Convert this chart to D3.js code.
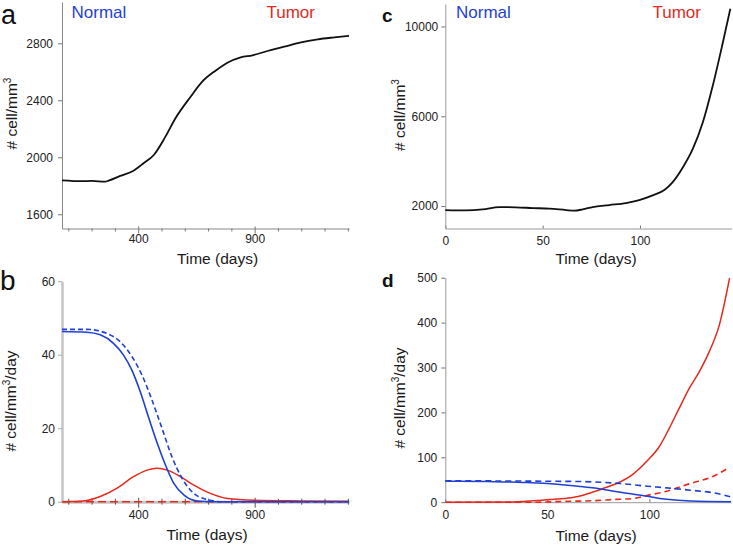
<!DOCTYPE html>
<html>
<head>
<meta charset="utf-8">
<script src="https://cdn.jsdelivr.net/npm/d3@7"></script>
<style>
  html, body { margin: 0; padding: 0; background: #fff; }
  svg { display: block; }
  text { font-family: "Liberation Sans", Arial, Helvetica, sans-serif; }
</style>
</head>
<body>
<svg id="chart" width="733" height="549"></svg>
<script>
// ---------------- DATA ----------------
// Panel a: total cell density vs time
const aTime  = [73,158,201,258,273,323,380,423,467,517,560,625,675,732,783,840,891,955,1027,1099,1171,1242,1305];
const aCells = [1838,1832,1834,1829,1836,1869,1906,1958,2016,2145,2274,2425,2531,2608,2664,2702,2716,2746,2776,2807,2828,2842,2853];

// Panel b: rates
const bNormalSolidT = [73,179,237,294,337,373,409,446,482,517,553,597,654,720,900,1305];
const bNormalSolidV = [46.3,46.1,45.4,43.1,39.9,35.8,29.9,22.7,15.9,10.0,5.0,1.8,0.2,0,0,0];
const bNormalDashT  = [73,179,265,323,373,416,459,502,545,588,638,696,760,900,1305];
const bNormalDashV  = [46.9,46.9,45.8,43.5,39.5,34.5,27.7,20.0,12.2,6.4,2.3,0.6,0,0,0];
const bTumorSolidT  = [73,165,237,308,380,438,482,525,582,639,697,783,898,1099,1305];
const bTumorSolidV  = [0,0.2,1.4,3.6,6.8,8.6,9.1,8.6,6.8,4.5,2.6,0.9,0.4,0.2,0.1];
const bTumorDashT   = [73,1305];
const bTumorDashV   = [0,0];

// Panel c: total cell density vs time
const cTime  = [0,10.6,19.2,27.7,36.3,44.9,53.4,62,66.3,70.6,75.7,84.2,92.8,99.6,106.5,112.5,116.8,121.9,127,132.2,137.3,142.5,146.4];
const cCells = [1822,1809,1853,1956,1942,1911,1884,1822,1795,1853,1956,2044,2133,2267,2476,2711,3067,3707,4520,5706,7333,9262,10786];

// Panel d: rates
const dNormalSolidT = [0,20,40,55,66,76,86,99,108.5,120,140];
const dNormalSolidV = [47,46,44,40,35,29.5,22,13.3,6.5,2.5,0.8];
const dNormalDashT  = [0,40,55,66,76,86,99,108.5,120,131.4,139.6];
const dNormalDashV  = [47.7,47,46.5,46,44.4,41.5,35.6,32,26.7,20.9,12];
const dTumorSolidT  = [0,30,45,55,63,67,72,77,83.7,91.9,98.7,104.9,109.8,114.7,119.6,124.5,129.4,134.3,139.3];
const dTumorSolidV  = [0,0.5,4,7,11,15,22,30,41,62,91,124,165,210,254,291,336,395,499];
const dTumorDashT   = [0,45,59,66,75.5,82.4,91.9,98.7,108.5,120,131.4,138.7];
const dTumorDashV   = [0,0,2,2.5,4,6,8,15,24.4,41.5,57.8,76.4];

// Ticks
const abXTicks = [100,200,300,400,500,600,700,800,900,1000,1100,1200,1300];
const abXLabels = [400,900];
const aYTicks = [1600,2000,2400,2800];
const bYTicks = [0,20,40,60];
const cdXTicks = [0,50,100];
const cYTicks = [2000,6000,10000];
const dYTicks = [0,100,200,300,400,500];

// ---------------- DRAW ----------------
const svg = d3.select("#chart");
const BLUE = "#1f3fd6", RED = "#e42a1d";
const fmt = d3.format("d");

function zip(t, v) { return t.map((x, i) => [x, v[i]]); }

function drawLine(g, x, y, data, color, width, dash) {
  const line = d3.line().x(d => x(d[0])).y(d => y(d[1])).curve(d3.curveMonotoneX);
  g.append("path").datum(data)
    .attr("fill", "none").attr("stroke", color).attr("stroke-width", width)
    .attr("stroke-dasharray", dash || null)
    .attr("stroke-linejoin", "round")
    .attr("d", line);
}

function yLabel(xpos, ycenter, withDay) {
  const t = svg.append("text")
    .attr("transform", `translate(${xpos},${ycenter}) rotate(-90)`)
    .attr("text-anchor", "middle").attr("font-size", 15.5).attr("fill", "#1a1a1a");
  t.append("tspan").text("# cell/mm");
  t.append("tspan").text("3").attr("font-size", 10).attr("dy", -6);
  if (withDay) t.append("tspan").text("/day").attr("dy", 6);
}

function xLabel(xc, yb) {
  svg.append("text").attr("x", xc).attr("y", yb).attr("text-anchor", "middle")
    .attr("font-size", 15.5).attr("fill", "#1a1a1a").text("Time (days)");
}

function styleAxis(g, color, width) {
  g.select(".domain").attr("stroke", color).attr("stroke-width", width);
  g.selectAll(".tick line").attr("stroke", "#777");
  g.selectAll(".tick text").attr("font-size", 12).attr("fill", "#222")
    .attr("font-family", "'Liberation Sans', Arial, sans-serif");
}

// ----- Panel a -----
{
  const x = d3.scaleLinear().domain([73, 1305]).range([62, 349]);
  const y = d3.scaleLinear().domain([1500, 3090]).range([228.5, 2]);
  const g = svg.append("g");
  const xa = g.append("g").attr("transform", "translate(0,228.5)")
    .call(d3.axisBottom(x).tickValues(abXTicks).tickSize(3).tickSizeOuter(0)
      .tickFormat(d => abXLabels.includes(d) ? fmt(d) : ""));
  xa.selectAll(".tick").filter(d => abXLabels.includes(d)).select("line").attr("y1", -2).attr("y2", 5);
  xa.selectAll(".tick text").attr("y", 6);
  styleAxis(xa, "#888", 1);
  const ya = g.append("g").attr("transform", "translate(62,0)")
    .call(d3.axisLeft(y).tickValues(aYTicks).tickSize(4).tickPadding(5).tickSizeOuter(0).tickFormat(fmt));
  styleAxis(ya, "#888", 1);
  drawLine(g, x, y, zip(aTime, aCells), "#111", 1.8);
  yLabel(17, 113.5, false);
  xLabel(217.5, 264);
  svg.append("text").attr("x", 1).attr("y", 24).attr("font-family", "Lato, 'Noto Sans', sans-serif")
    .attr("font-size", 27).attr("fill", "#111").text("a");
  svg.append("text").attr("x", 71.5).attr("y", 18.3).attr("font-size", 17).attr("fill", BLUE).text("Normal");
  svg.append("text").attr("x", 266.5).attr("y", 18.3).attr("font-size", 17).attr("fill", RED).text("Tumor");
}

// ----- Panel b -----
{
  const x = d3.scaleLinear().domain([73, 1305]).range([62, 349]);
  const y = d3.scaleLinear().domain([0, 60]).range([501.7, 281.2]);
  const g = svg.append("g");
  const ya = g.append("g").attr("transform", "translate(62,0)")
    .call(d3.axisLeft(y).tickValues(bYTicks).tickSize(4).tickPadding(3).tickSizeOuter(0).tickFormat(fmt));
  styleAxis(ya, "#c4c4c4", 2.5);
  ya.selectAll(".tick line").attr("stroke", "#aaa");
  const xa = g.append("g").attr("transform", "translate(0,501.7)")
    .call(d3.axisBottom(x).tickValues(abXTicks).tickSize(3).tickSizeOuter(0)
      .tickFormat(d => abXLabels.includes(d) ? fmt(d) : ""));
  styleAxis(xa, "#c4c4c4", 3);
  xa.selectAll(".tick line").attr("y1", -3).attr("y2", 3).attr("stroke", "#555");
  xa.selectAll(".tick").filter(d => abXLabels.includes(d)).select("line").attr("y1", -4).attr("y2", 6);
  xa.selectAll(".tick text").attr("y", 9);
  drawLine(g, x, y, zip(bTumorDashT, bTumorDashV), RED, 1.6, "8,4");
  drawLine(g, x, y, zip(bTumorSolidT, bTumorSolidV), RED, 1.5);
  drawLine(g, x, y, zip(bNormalDashT, bNormalDashV), BLUE, 1.6, "5,3");
  drawLine(g, x, y, zip(bNormalSolidT, bNormalSolidV), BLUE, 1.6);
  yLabel(16, 401, true);
  xLabel(207, 540);
  svg.append("text").attr("x", 0).attr("y", 290).attr("font-family", "Lato, 'Noto Sans', sans-serif")
    .attr("font-size", 28).attr("fill", "#111").text("b");
}

// ----- Panel c -----
{
  const x = d3.scaleLinear().domain([0, 147]).range([445.3, 731.5]);
  const y = d3.scaleLinear().domain([1000, 11000]).range([228.5, 4]);
  const g = svg.append("g");
  const xa = g.append("g").attr("transform", "translate(0,228.5)")
    .call(d3.axisBottom(x).tickValues(cdXTicks).tickSize(3).tickPadding(5).tickSizeOuter(0).tickFormat(fmt));
  xa.selectAll(".tick line").attr("y1", -3).attr("y2", 0);
  styleAxis(xa, "#999", 1);
  const ya = g.append("g").attr("transform", "translate(445.3,0)")
    .call(d3.axisLeft(y).tickValues(cYTicks).tickSize(4).tickPadding(3).tickSizeOuter(0).tickFormat(fmt));
  styleAxis(ya, "#999", 1);
  drawLine(g, x, y, zip(cTime, cCells), "#111", 1.8);
  yLabel(405, 115, false);
  xLabel(596, 264);
  svg.append("text").attr("x", 382).attr("y", 22).attr("font-family", "'Open Sans', sans-serif")
    .attr("font-weight", "bold").attr("font-size", 19).attr("fill", "#111").text("c");
  svg.append("text").attr("x", 456).attr("y", 18.3).attr("font-size", 17).attr("fill", BLUE).text("Normal");
  svg.append("text").attr("x", 652.5).attr("y", 18.3).attr("font-size", 17).attr("fill", RED).text("Tumor");
}

// ----- Panel d -----
{
  const x = d3.scaleLinear().domain([0, 140]).range([445.3, 731]);
  const y = d3.scaleLinear().domain([0, 500]).range([502.2, 277.7]);
  const g = svg.append("g");
  const xa = g.append("g").attr("transform", "translate(0,502.2)")
    .call(d3.axisBottom(x).tickValues(cdXTicks).tickSize(3).tickPadding(5).tickSizeOuter(0).tickFormat(fmt));
  xa.selectAll(".tick line").attr("y1", -3).attr("y2", 0);
  styleAxis(xa, "#999", 1);
  const ya = g.append("g").attr("transform", "translate(445.3,0)")
    .call(d3.axisLeft(y).tickValues(dYTicks).tickSize(4).tickPadding(4).tickSizeOuter(0).tickFormat(fmt));
  styleAxis(ya, "#999", 1);
  drawLine(g, x, y, zip(dTumorDashT, dTumorDashV), RED, 1.6, "6,4");
  drawLine(g, x, y, zip(dTumorSolidT, dTumorSolidV), RED, 1.5);
  drawLine(g, x, y, zip(dNormalDashT, dNormalDashV), BLUE, 1.6, "6,4");
  drawLine(g, x, y, zip(dNormalSolidT, dNormalSolidV), BLUE, 1.5);
  yLabel(405, 398, true);
  xLabel(596, 541);
  svg.append("text").attr("x", 382).attr("y", 287).attr("font-family", "'Open Sans', sans-serif")
    .attr("font-weight", "bold").attr("font-size", 19).attr("fill", "#111").text("d");
}
</script>
</body>
</html>
